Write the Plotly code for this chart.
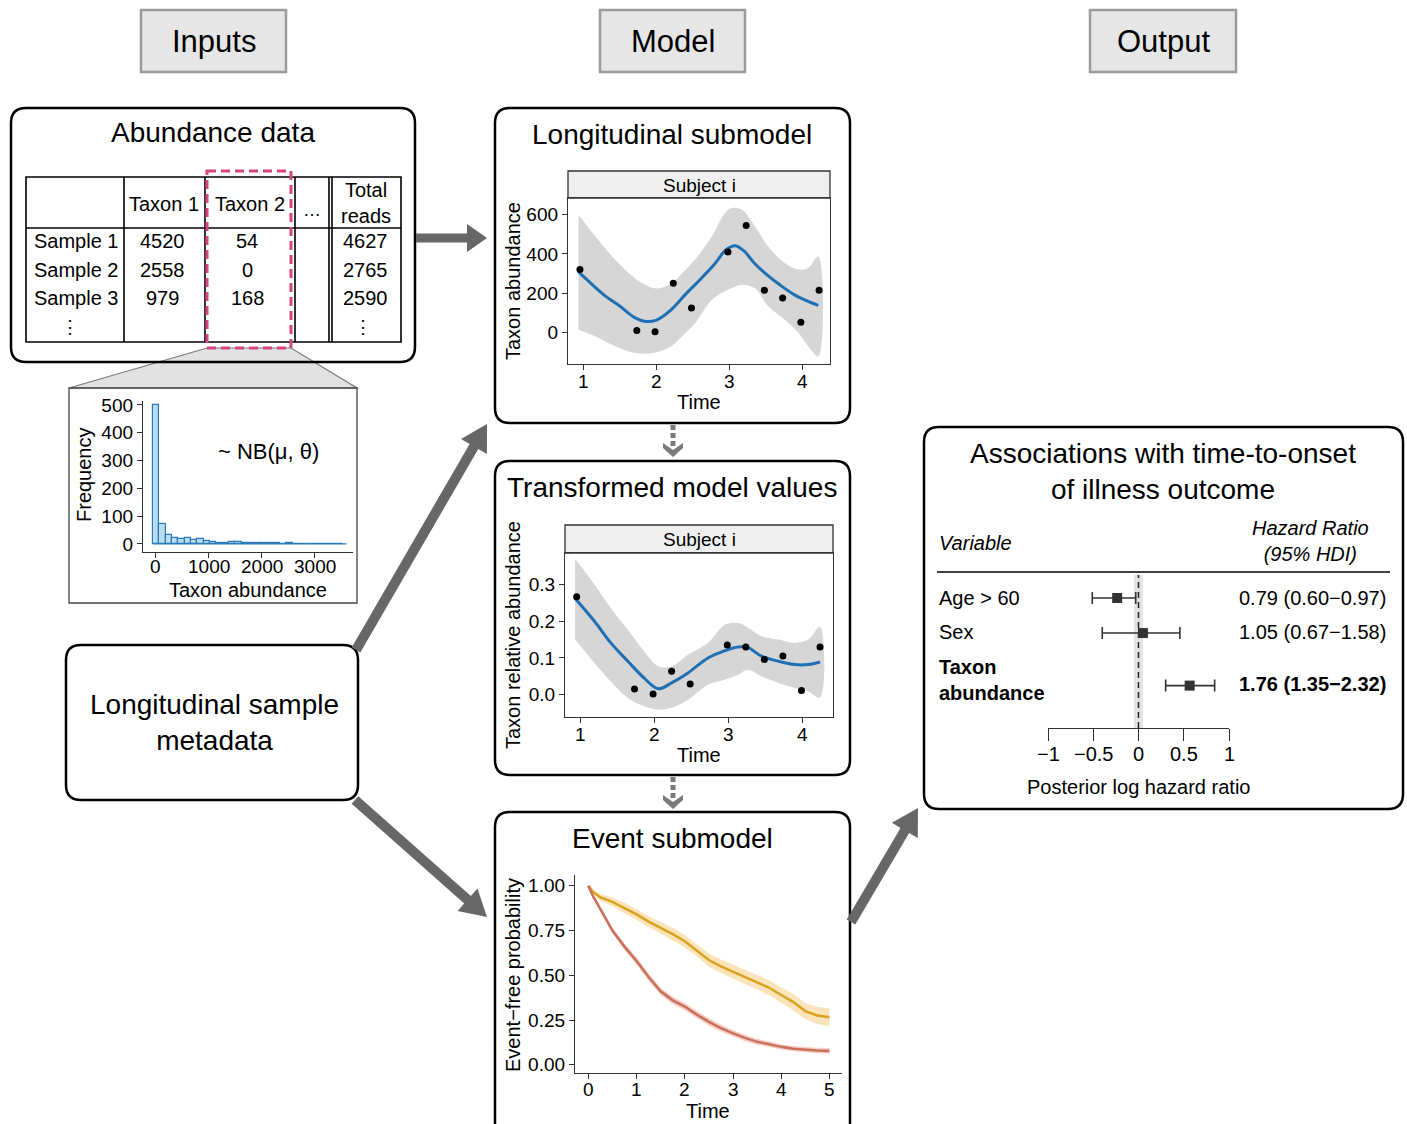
import math
import plotly.graph_objects as go

W, H = 1407, 1124
FONT = "Liberation Sans, Arial, Helvetica, sans-serif"

# ---------------- data ----------------
panel_headers = ["Inputs", "Model", "Output"]

table_cols = ["Taxon 1", "Taxon 2", "…", "Total<br>reads"]
samples = ["Sample 1", "Sample 2", "Sample 3"]
taxon1 = [4520, 2558, 979]
taxon2 = [54, 0, 168]
total_reads = [4627, 2765, 2590]

hist_centers = [0, 120, 240, 360, 480, 600, 720, 840, 960, 1080, 1200, 1320, 1440, 1560, 1680,
                1800, 1920, 2040, 2160, 2280, 2400, 2520, 2640, 2760, 2880, 3000, 3120, 3240, 3360, 3480]
hist_counts = [500, 73, 32, 22, 16, 20, 14, 18, 10, 7, 5, 4, 7, 8, 3,
               2, 3, 4, 3, 2, 1, 2, 1, 1, 1, 0, 1, 0, 0, 0]
hist_binwidth = 120
hist_xticks = [0, 1000, 2000, 3000]
hist_yticks = [0, 100, 200, 300, 400, 500]

obs_time = [0.95, 1.73, 1.98, 2.23, 2.48, 2.98, 3.23, 3.48, 3.73, 3.98, 4.23]
long_obs = [320, 10, 3, 250, 125, 410, 545, 215, 175, 52, 215]
trans_obs = [0.267, 0.015, 0.002, 0.064, 0.029, 0.135, 0.130, 0.096, 0.105, 0.011, 0.130]
time_ticks = [1, 2, 3, 4]

long_fit_t = [0.93, 1.1, 1.3, 1.5, 1.7, 1.85, 2.0, 2.2, 2.4, 2.6, 2.8, 2.95, 3.08, 3.2, 3.35, 3.5, 3.7, 3.9, 4.1, 4.22]
long_fit = [308, 250, 185, 133, 75, 56, 63, 115, 195, 270, 350, 420, 442, 415, 350, 298, 240, 190, 155, 138]
long_band_t = [0.93, 1.16, 1.39, 1.62, 1.8, 2.0, 2.2, 2.35, 2.53, 2.76, 2.94, 3.03, 3.17, 3.35, 3.53, 3.76, 3.95, 4.08, 4.22]
long_upper = [600, 490, 388, 303, 252, 224, 248, 300, 371, 490, 609, 634, 626, 541, 439, 354, 320, 328, 388]
long_lower = [14, -20, -63, -97, -109, -101, -72, -20, 48, 167, 210, 225, 243, 225, 133, 65, -3, -71, -122]
long_yticks = [0, 200, 400, 600]

trans_t = [0.93, 1.19, 1.41, 1.64, 1.86, 2.05, 2.23, 2.45, 2.72, 2.95, 3.13, 3.26, 3.44, 3.67, 3.89, 4.07, 4.23]
trans_fit = [0.262, 0.2, 0.141, 0.091, 0.045, 0.016, 0.032, 0.059, 0.1, 0.12, 0.13, 0.128, 0.105, 0.091, 0.082, 0.082, 0.089]
trans_upper = [0.37, 0.3, 0.236, 0.177, 0.118, 0.077, 0.077, 0.109, 0.141, 0.191, 0.195, 0.182, 0.159, 0.15, 0.141, 0.15, 0.185]
trans_lower = [0.15, 0.086, 0.036, -0.009, -0.032, -0.041, -0.036, -0.014, 0.027, 0.041, 0.055, 0.068, 0.05, 0.032, 0.018, 0.009, -0.008]
trans_yticks = [0, 0.1, 0.2, 0.3]
trans_yticktext = ["0.0", "0.1", "0.2", "0.3"]

ev_t = [0, 0.1, 0.25, 0.5, 0.75, 1.0, 1.25, 1.5, 1.75, 2.0, 2.25, 2.5, 2.75, 3.0, 3.25, 3.5, 3.75, 4.0, 4.25, 4.5, 4.75, 5.0]
ev_yel = [1.0, 0.965, 0.935, 0.91, 0.875, 0.84, 0.80, 0.765, 0.73, 0.69, 0.64, 0.585, 0.55, 0.518, 0.49, 0.46, 0.43, 0.39, 0.35, 0.30, 0.275, 0.265]
ev_yel_hi = [1.0, 0.975, 0.955, 0.935, 0.905, 0.87, 0.83, 0.797, 0.765, 0.725, 0.675, 0.622, 0.588, 0.558, 0.53, 0.5, 0.472, 0.433, 0.395, 0.345, 0.322, 0.315]
ev_yel_lo = [1.0, 0.955, 0.915, 0.885, 0.845, 0.81, 0.77, 0.733, 0.695, 0.655, 0.605, 0.548, 0.512, 0.478, 0.45, 0.42, 0.388, 0.347, 0.305, 0.255, 0.228, 0.215]
ev_red = [1.0, 0.94, 0.87, 0.75, 0.66, 0.58, 0.49, 0.41, 0.36, 0.325, 0.28, 0.24, 0.205, 0.175, 0.15, 0.128, 0.115, 0.10, 0.09, 0.083, 0.08, 0.077]
ev_red_hi = [1.0, 0.948, 0.882, 0.765, 0.678, 0.6, 0.51, 0.43, 0.38, 0.345, 0.3, 0.26, 0.225, 0.193, 0.168, 0.144, 0.131, 0.115, 0.105, 0.098, 0.095, 0.092]
ev_red_lo = [1.0, 0.932, 0.858, 0.735, 0.642, 0.56, 0.47, 0.39, 0.34, 0.305, 0.26, 0.22, 0.185, 0.157, 0.132, 0.112, 0.099, 0.085, 0.075, 0.068, 0.065, 0.062]
ev_xticks = [0, 1, 2, 3, 4, 5]
ev_yticks = [0, 0.25, 0.5, 0.75, 1.0]
ev_yticktext = ["0.00", "0.25", "0.50", "0.75", "1.00"]

var_labels = ["Age > 60", "Sex", "Taxon<br>abundance"]
var_bold = [False, False, True]
hr = [0.79, 1.05, 1.76]
hr_lo = [0.60, 0.67, 1.35]
hr_hi = [0.97, 1.58, 2.32]
row_pos = [1, 2, 3.5]
forest_ticks = [-1, -0.5, 0, 0.5, 1]
forest_ticktext = ["−1", "−0.5", "0", "0.5", "1"]

# ---------------- helpers ----------------
def X(p):
    return p / W


def Y(p):
    return 1 - p / H


shapes = []
annots = []


def text(t, x, y, size=20, xanchor="center", yanchor="middle", color="black", angle=0, align="center"):
    annots.append(dict(text=t, x=X(x), y=Y(y), xref="paper", yref="paper", showarrow=False,
                       xanchor=xanchor, yanchor=yanchor, textangle=angle, align=align,
                       font=dict(size=size, color=color, family=FONT)))


def xtick_labels(axis, vals, texts, y_px, size=19):
    for v, t in zip(vals, texts):
        annots.append(dict(text=t, x=v, xref=axis, y=Y(y_px), yref="paper", showarrow=False,
                           xanchor="center", yanchor="middle",
                           font=dict(size=size, color="black", family=FONT)))


def rect(x0, y0, x1, y1, line="black", width=1.5, fill="rgba(0,0,0,0)", dash=None, layer="below"):
    ln = dict(color=line, width=width)
    if dash:
        ln["dash"] = dash
    shapes.append(dict(type="rect", xref="paper", yref="paper", x0=X(x0), x1=X(x1), y0=Y(y0), y1=Y(y1),
                       line=ln, fillcolor=fill, layer=layer))


def line(x0, y0, x1, y1, color="black", width=1.5, dash=None, layer="below"):
    ln = dict(color=color, width=width)
    if dash:
        ln["dash"] = dash
    shapes.append(dict(type="line", xref="paper", yref="paper", x0=X(x0), x1=X(x1), y0=Y(y0), y1=Y(y1),
                       line=ln, layer=layer))


def poly(pts, fill, line_color=None, width=0, layer="below"):
    d = "M " + " L ".join(f"{X(a):.5f},{Y(b):.5f}" for a, b in pts) + " Z"
    shapes.append(dict(type="path", xref="paper", yref="paper", path=d, fillcolor=fill,
                       line=dict(color=line_color or fill, width=width), layer=layer))


def rrect(x0, y0, x1, y1, r=15, width=2.5, color="black"):
    P = lambda a, b: f"{X(a):.5f},{Y(b):.5f}"
    d = (f"M {P(x0 + r, y0)} L {P(x1 - r, y0)} Q {P(x1, y0)} {P(x1, y0 + r)} "
         f"L {P(x1, y1 - r)} Q {P(x1, y1)} {P(x1 - r, y1)} L {P(x0 + r, y1)} "
         f"Q {P(x0, y1)} {P(x0, y1 - r)} L {P(x0, y0 + r)} Q {P(x0, y0)} {P(x0 + r, y0)} Z")
    shapes.append(dict(type="path", xref="paper", yref="paper", path=d, fillcolor="rgba(0,0,0,0)",
                       line=dict(color=color, width=width), layer="below"))


def arrow(x0, y0, x1, y1, sw=9, hw=28, hl=22, color="#676767"):
    dx, dy = x1 - x0, y1 - y0
    L = math.hypot(dx, dy)
    ux, uy = dx / L, dy / L
    nx, ny = -uy, ux
    bx, by = x1 - ux * hl, y1 - uy * hl
    pts = [(x0 + nx * sw / 2, y0 + ny * sw / 2), (bx + nx * sw / 2, by + ny * sw / 2),
           (bx + nx * hw / 2, by + ny * hw / 2), (x1, y1),
           (bx - nx * hw / 2, by - ny * hw / 2), (bx - nx * sw / 2, by - ny * sw / 2),
           (x0 - nx * sw / 2, y0 - ny * sw / 2)]
    poly(pts, color)


def dashed_arrow(x, y0, y1, color="#7a7a7a"):
    line(x, y0, x, y1 - 10, color=color, width=5, dash="5px,3px")
    poly([(x - 10, y1 - 14), (x, y1 - 7), (x + 10, y1 - 14), (x + 10, y1 - 9), (x, y1), (x - 10, y1 - 9)], color)


# ---------------- header boxes ----------------
for lab, (x0, x1) in zip(panel_headers, [(141, 286), (600, 745), (1090, 1236)]):
    rect(x0, 10, x1, 72, line="#9a9a9a", width=2.5, fill="#e6e6e6")
    text(lab, (x0 + x1) / 2, 41, size=31)

# ---------------- abundance data ----------------
poly([(207, 348), (291, 348), (357, 388), (69, 388)], "#e2e2e2", line_color="#7a7a7a", width=1.2)
rrect(11, 108, 415, 362)
text("Abundance data", 213, 133, size=28)
rect(26, 177, 401, 342, width=1.6)
line(26, 228, 401, 228, width=1.6)
for vx in [124, 205, 295, 329, 332]:
    line(vx, 177, vx, 342, width=1.6)
col_cx = [164, 250, 312, 366]
for cx, lab in zip(col_cx, table_cols):
    if lab == "…":
        text(lab, cx, 210, size=18)
    elif "<br>" in lab:
        text(lab, cx, 203, size=20)
    else:
        text(lab, cx, 204, size=20)
row_y = [241, 270, 298]
for i, ry in enumerate(row_y):
    text(samples[i], 32, ry, size=20, xanchor="left")
    text(str(taxon1[i]), 162, ry, size=20)
    text(str(taxon2[i]), 247, ry, size=20)
    text(str(total_reads[i]), 365, ry, size=20)
text("⋮", 70, 327, size=18)
text("⋮", 363, 327, size=18)
rect(207, 171, 291, 348, line="#d6457d", width=3, dash="9px,5px")

# histogram box
rect(69, 388, 357, 603, line="#444", width=1.3)
text("~ NB(μ, θ)", 268, 452, size=22)
text("Frequency", 84, 475, size=20, angle=-90)
text("Taxon abundance", 248, 590, size=20)

# ---------------- metadata ----------------
rrect(66, 645, 358, 800)
text("Longitudinal sample<br>metadata", 214, 722, size=28)

# ---------------- model boxes ----------------
rrect(495, 108, 850, 423)
text("Longitudinal submodel", 672, 134, size=28)
rrect(495, 461, 850, 775)
text("Transformed model values", 672, 487, size=28)
rrect(495, 812, 850, 1145)
text("Event submodel", 672, 838, size=28)

# strips
rect(568, 171, 830, 198, line="#333", width=1.3, fill="#efefef")
text("Subject i", 699, 185, size=19)
rect(565, 525, 833, 553, line="#333", width=1.3, fill="#efefef")
text("Subject i", 699, 539, size=19)

text("Taxon abundance", 513, 281, size=20, angle=-90)
text("Time", 699, 402, size=20)
text("Taxon relative abundance", 513, 635, size=20, angle=-90)
text("Time", 699, 755, size=20)
text("Event−free probability", 513, 975, size=20, angle=-90)
text("Time", 708, 1111, size=20)

# ---------------- output ----------------
rrect(924, 427, 1403, 809)
text("Associations with time-to-onset<br>of illness outcome", 1163, 471, size=28)
text("<i>Variable</i>", 937, 543, size=20, xanchor="left")
text("<i>Hazard Ratio</i><br><i>(95% HDI)</i>", 1310, 541, size=20)
line(937, 572, 1390, 572, width=1.5)
label_y = [598, 632, 680]
val_y = [598, 632, 684]
for i in range(3):
    lab = var_labels[i]
    val = f"{hr[i]:.2f} ({hr_lo[i]:.2f}−{hr_hi[i]:.2f})"
    if var_bold[i]:
        lab = "<br>".join(f"<b>{p}</b>" for p in lab.split("<br>"))
        val = f"<b>{val}</b>"
    text(lab, 937, label_y[i], size=20, xanchor="left", align="left")
    text(val, 1388, val_y[i], size=20, xanchor="right", align="right")
text("Posterior log hazard ratio", 1138, 787, size=20)

# ---------------- arrows ----------------
arrow(416, 238, 487, 238, sw=9, hw=28, hl=20)
arrow(356, 650, 487, 424, sw=10, hw=30, hl=26)
arrow(355, 800, 487, 917, sw=10, hw=30, hl=26)
arrow(851, 922, 918, 808, sw=10, hw=30, hl=26)
dashed_arrow(673, 425, 457)
dashed_arrow(673, 777, 809)

# ---------------- x tick labels (placed on the axes' scales) ----------------
xtick_labels("x", hist_xticks, [str(v) for v in hist_xticks], 566, size=19)
xtick_labels("x2", time_ticks, [str(v) for v in time_ticks], 381, size=19)
xtick_labels("x3", time_ticks, [str(v) for v in time_ticks], 734, size=19)
xtick_labels("x4", ev_xticks, [str(v) for v in ev_xticks], 1089, size=19)
xtick_labels("x5", forest_ticks, forest_ticktext, 754, size=20)

# ---------------- traces ----------------
fig = go.Figure()

# histogram
fig.add_trace(go.Bar(x=hist_centers, y=hist_counts, width=hist_binwidth,
                     marker=dict(color="rgba(178,216,240,0.9)", line=dict(color="#2b7bba", width=1.2)),
                     xaxis="x", yaxis="y", showlegend=False))
shapes.append(dict(type="line", xref="x", yref="y", x0=-hist_binwidth / 2, x1=hist_centers[-1] + hist_binwidth,
                   y0=0, y1=0, line=dict(color="#2b7bba", width=1.2), layer="above"))

# longitudinal
fig.add_trace(go.Scatter(x=long_band_t + long_band_t[::-1], y=long_upper + long_lower[::-1], fill="toself",
                         fillcolor="#d6d6d6", line=dict(width=0, shape="spline"), mode="lines",
                         xaxis="x2", yaxis="y2", showlegend=False))
fig.add_trace(go.Scatter(x=long_fit_t, y=long_fit, mode="lines", line=dict(color="#1f6fb4", width=3, shape="spline"),
                         xaxis="x2", yaxis="y2", showlegend=False))
fig.add_trace(go.Scatter(x=obs_time, y=long_obs, mode="markers", marker=dict(color="black", size=7),
                         xaxis="x2", yaxis="y2", showlegend=False))

# transformed
fig.add_trace(go.Scatter(x=trans_t + trans_t[::-1], y=trans_upper + trans_lower[::-1], fill="toself",
                         fillcolor="#d6d6d6", line=dict(width=0, shape="spline"), mode="lines",
                         xaxis="x3", yaxis="y3", showlegend=False))
fig.add_trace(go.Scatter(x=trans_t, y=trans_fit, mode="lines", line=dict(color="#1f6fb4", width=3, shape="spline"),
                         xaxis="x3", yaxis="y3", showlegend=False))
fig.add_trace(go.Scatter(x=obs_time, y=trans_obs, mode="markers", marker=dict(color="black", size=7),
                         xaxis="x3", yaxis="y3", showlegend=False))

# event
for hi, lo, mid, fc, lc in [(ev_yel_hi, ev_yel_lo, ev_yel, "rgba(250,205,130,0.55)", "#d9a21f"),
                             (ev_red_hi, ev_red_lo, ev_red, "rgba(240,165,155,0.55)", "#c8705a")]:
    fig.add_trace(go.Scatter(x=ev_t + ev_t[::-1], y=hi + lo[::-1], fill="toself", fillcolor=fc,
                             line=dict(width=0), mode="lines", xaxis="x4", yaxis="y4", showlegend=False))
    fig.add_trace(go.Scatter(x=ev_t, y=mid, mode="lines", line=dict(color=lc, width=2.5),
                             xaxis="x4", yaxis="y4", showlegend=False))

# forest
log_hr = [math.log(v) for v in hr]
log_lo = [math.log(v) for v in hr_lo]
log_hi = [math.log(v) for v in hr_hi]
fig.add_trace(go.Scatter(x=log_hr, y=row_pos, mode="markers",
                         marker=dict(symbol="square", size=10, color="#333"),
                         error_x=dict(type="data", symmetric=False,
                                      array=[h - e for h, e in zip(log_hi, log_hr)],
                                      arrayminus=[e - l for e, l in zip(log_hr, log_lo)],
                                      color="#333", thickness=1.6, width=6),
                         xaxis="x5", yaxis="y5", showlegend=False))
shapes.append(dict(type="rect", xref="x5", yref="paper", x0=-0.05, x1=0.05, y0=Y(728), y1=Y(575),
                   fillcolor="#e4e4e4", line=dict(width=0), layer="below"))
shapes.append(dict(type="line", xref="x5", yref="paper", x0=0, x1=0, y0=Y(728), y1=Y(575),
                   line=dict(color="#222", width=1.5, dash="6px,4px"), layer="below"))


def ax(x0, x1, rng, tickvals, ticklen=5, mirror=False, anchor=None):
    return dict(domain=[X(x0), X(x1)], range=rng, showgrid=False, zeroline=False, showline=True,
                linecolor="#333", linewidth=1.3, mirror=mirror, ticks="outside", ticklen=ticklen,
                tickcolor="#333", tickwidth=1.3, tickvals=tickvals, showticklabels=False,
                fixedrange=True, anchor=anchor, automargin=False)


def ay(y0, y1, rng, tickvals, ticktext=None, size=19, mirror=False, ticklen=5, anchor=None):
    d = dict(domain=[Y(y1), Y(y0)], range=rng, showgrid=False, zeroline=False, showline=True,
             linecolor="#333", linewidth=1.3, mirror=mirror, ticks="outside", ticklen=ticklen,
             tickcolor="#333", tickwidth=1.3, tickvals=tickvals,
             tickfont=dict(size=size, color="black", family=FONT), fixedrange=True, anchor=anchor,
             automargin=False)
    if ticktext is not None:
        d["ticktext"] = ticktext
    return d


fig.update_layout(
    template="none",
    width=W, height=H, margin=dict(l=0, r=0, t=0, b=0, pad=0, autoexpand=False), autosize=False,
    paper_bgcolor="white", plot_bgcolor="rgba(0,0,0,0)",
    font=dict(family=FONT, color="black"),
    showlegend=False, bargap=0,
    xaxis=ax(143, 353, [-245, 3721], hist_xticks, anchor="y"),
    yaxis=ay(401, 552, [-29, 514], hist_yticks, size=19, anchor="x"),
    xaxis2=ax(568, 830, [0.786, 4.38], time_ticks, mirror=True, anchor="y2"),
    yaxis2=ay(198, 364, [-161, 685], long_yticks, mirror=True, anchor="x2"),
    xaxis3=ax(565, 833, [0.793, 4.405], time_ticks, mirror=True, anchor="y3"),
    yaxis3=ay(553, 717, [-0.061, 0.386], trans_yticks, trans_yticktext, mirror=True, anchor="x3"),
    xaxis4=ax(575, 842, [-0.276, 5.26], ev_xticks, anchor="y4"),
    yaxis4=ay(875, 1073, [-0.046, 1.06], ev_yticks, ev_yticktext, anchor="x4"),
    xaxis5=ax(1048, 1229, [-1, 1], forest_ticks, ticklen=12, anchor="y5"),
    yaxis5=dict(domain=[Y(728), Y(575)], range=[4.71, 0.343], visible=False, anchor="x5",
                fixedrange=True, automargin=False),
    shapes=shapes, annotations=annots,
)

page_fix = (
    "var d=document.getElementById('{plot_id}');"
    "d.style.position='absolute';d.style.left='0px';d.style.top='0px';"
    "document.documentElement.style.margin='0';document.body.style.margin='0';"
    "document.body.style.padding='0';"
    "document.documentElement.style.overflow='hidden';document.body.style.overflow='hidden';"
)

fig.write_html(
    "out.html",
    include_plotlyjs=True,
    config={"displayModeBar": False},
    post_script=page_fix,
)
